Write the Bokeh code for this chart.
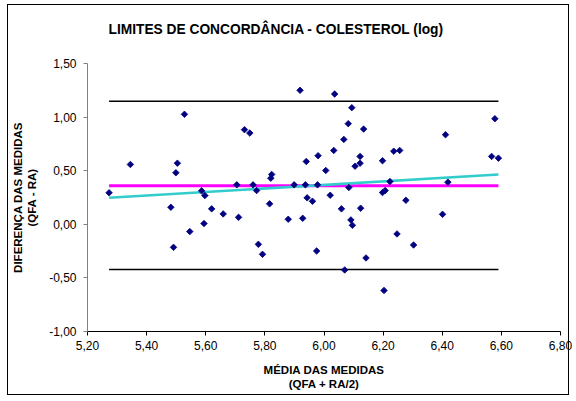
from bokeh.plotting import figure
from bokeh.models import Range1d, FixedTicker, CustomJSTickFormatter, InlineStyleSheet
from bokeh.embed import file_html
from bokeh.resources import INLINE
import math

# ---- data ----
media = [5.273, 5.345, 5.528, 5.504, 5.499, 5.586, 5.597, 5.482, 5.620, 5.659, 5.594, 5.546, 5.491,
         5.919, 6.036, 6.094, 6.082, 6.134, 5.731, 5.749, 6.067, 6.033, 5.980, 6.122, 5.940, 6.198,
         6.122, 6.105, 6.006, 5.823, 5.820, 5.705, 5.760, 5.899, 5.937, 5.978, 6.084, 5.772, 6.207,
         6.198, 6.223, 6.021, 5.943, 5.961, 5.816, 6.059, 6.124, 5.711, 5.879, 5.928, 6.091, 6.096,
         5.778, 5.792, 5.975, 6.142, 6.070, 6.203,
         6.578, 6.411, 6.236, 6.256, 6.567, 6.590, 6.419, 6.277, 6.401, 6.247, 6.303]
diferenca = [0.294, 0.558, 1.026, 0.570, 0.481, 0.312, 0.268, 0.159, 0.144, 0.097, 0.007, -0.068, -0.215,
             1.250, 1.215, 1.088, 0.939, 0.888, 0.883, 0.851, 0.792, 0.689, 0.640, 0.633, 0.586, 0.593,
             0.570, 0.542, 0.502, 0.465, 0.430, 0.368, 0.368, 0.368, 0.368, 0.368, 0.343, 0.315, 0.315,
             0.296, 0.399, 0.271, 0.247, 0.215, 0.191, 0.144, 0.150, 0.065, 0.047, 0.056, 0.041, -0.009,
             -0.187, -0.280, -0.249, -0.314, -0.426, -0.617,
             0.985, 0.836, 0.682, 0.689, 0.633, 0.617, 0.393, 0.224, 0.093, -0.090, -0.193]

line_x = [5.273, 6.590]
mean_y = [0.359, 0.359]
upper_y = [1.147, 1.147]
lower_y = [-0.421, -0.421]
trend_y = [0.247, 0.465]

x_ticks = [5.2, 5.4, 5.6, 5.8, 6.0, 6.2, 6.4, 6.6, 6.8]
x_tick_labels = ["5,20", "5,40", "5,60", "5,80", "6,00", "6,20", "6,40", "6,60", "6,80"]
y_ticks = [-1.0, -0.5, 0.0, 0.5, 1.0, 1.5]
y_tick_labels = ["-1,00", "-0,50", "0,00", "0,50", "1,00", "1,50"]
title_text = "LIMITES DE CONCORDÂNCIA - COLESTEROL (log)"

FONT = "Liberation Sans"

p = figure(width=576, height=401, output_backend="svg", toolbar_location=None,
           x_range=Range1d(5.2, 6.8), y_range=Range1d(-1.0, 1.5),
           min_border_left=87, min_border_right=16, min_border_top=63, min_border_bottom=70)
p.background_fill_color = "white"
p.border_fill_color = "white"
p.outline_line_color = None
p.xgrid.visible = False
p.ygrid.visible = False
p.stylesheets = [InlineStyleSheet(css="""
:host::after {
  content: '';
  position: absolute;
  left: 7px; top: 4px; width: 562px; height: 391px;
  border: 1.5px solid black;
  box-sizing: border-box;
  pointer-events: none;
  z-index: 1000;
}
""")]

fmt_code = """
let best = 0; let bd = 1e9;
for (let i = 0; i < ticks_v.length; i++) { const d = Math.abs(ticks_v[i] - tick); if (d < bd) { bd = d; best = i; } }
return labels[best];
"""
p.xaxis.ticker = FixedTicker(ticks=x_ticks)
p.xaxis.formatter = CustomJSTickFormatter(args=dict(ticks_v=x_ticks, labels=x_tick_labels), code=fmt_code)
p.yaxis.ticker = FixedTicker(ticks=y_ticks)
p.yaxis.formatter = CustomJSTickFormatter(args=dict(ticks_v=y_ticks, labels=y_tick_labels), code=fmt_code)

for ax in (p.xaxis, p.yaxis):
    ax.major_label_text_font = FONT
    ax.major_label_text_font_size = "12px"
    ax.major_label_text_color = "black"
    ax.axis_label_text_font = FONT
    ax.axis_label_text_font_size = "11.5px"
    ax.axis_label_text_font_style = "bold"
    ax.axis_label_text_color = "black"
    ax.minor_tick_line_color = None
    ax.major_tick_in = 0
    ax.major_tick_out = 4

p.xaxis.major_label_standoff = 5
p.yaxis.major_label_standoff = 7
p.xaxis.axis_line_color = "black"
p.xaxis.major_tick_line_color = "black"
p.yaxis.axis_line_color = "#808080"
p.yaxis.major_tick_line_color = "#808080"
p.xaxis.axis_label = "MÉDIA DAS MEDIDAS\n(QFA + RA/2)"
p.yaxis.axis_label = "DIFERENÇA DAS MEDIDAS\n(QFA - RA)"
p.xaxis.axis_label_standoff = 11
p.yaxis.axis_label_standoff = 8

# second (blank) line lifts the title line away from the plot frame
p.title.text = title_text + "\n "
p.title.align = "left"
p.title.text_font = FONT
p.title.text_font_size = "13.75px"
p.title.text_font_style = "bold"
p.title.text_color = "black"
p.title.offset = 21
p.title.standoff = 24

p.line(line_x, upper_y, line_color="black", line_width=1.5)
p.line(line_x, lower_y, line_color="black", line_width=1.5)
p.line(line_x, mean_y, line_color="#FF00FF", line_width=3)
p.line(line_x, trend_y, line_color="#33CCCC", line_width=2.5)
p.scatter(media, diferenca, marker="square", angle=math.pi / 4, size=4.6,
          fill_color="#000080", line_color="#000080", line_width=0.8)

open("out.html", "w").write(file_html(p, INLINE))
